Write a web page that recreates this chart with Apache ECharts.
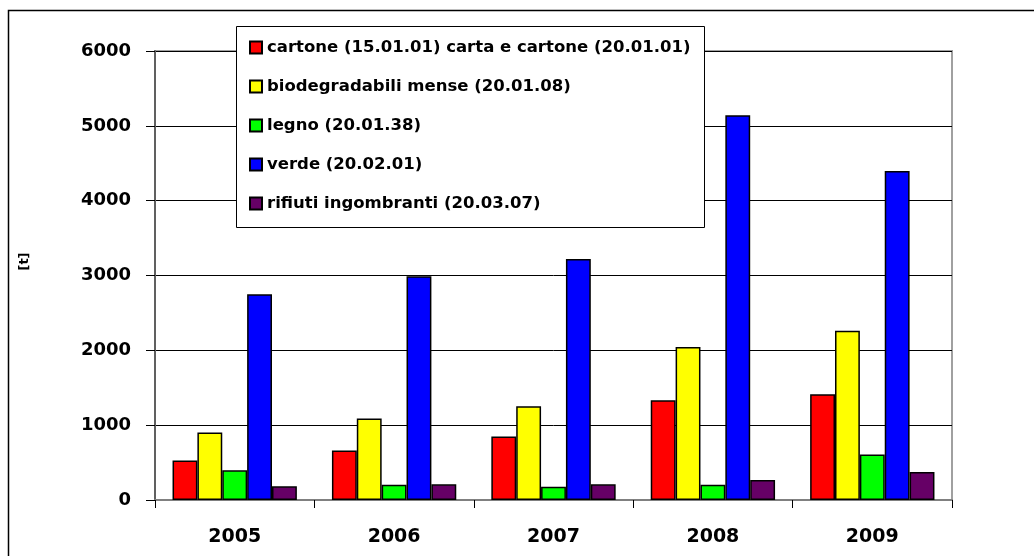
<!DOCTYPE html>
<html>
<head>
<meta charset="utf-8">
<script src="https://cdn.jsdelivr.net/npm/echarts@6/dist/echarts.min.js"></script>
<style>
  html, body { margin: 0; padding: 0; background: #fff; }
  #chart { width: 1034px; height: 556px; }
</style>
</head>
<body>
<div id="chart"></div>
<script>
// data
const years = ["2005", "2006", "2007", "2008", "2009"];
const seriesNames = [
  "cartone (15.01.01) carta e cartone (20.01.01)",
  "biodegradabili mense (20.01.08)",
  "legno (20.01.38)",
  "verde (20.02.01)",
  "rifiuti ingombranti (20.03.07)"
];
const cartone = [529, 663, 849, 1333, 1413];
const biodegradabili = [903, 1089, 1253, 2044, 2262];
const legno = [396, 204, 178, 204, 609];
const verde = [2751, 2991, 3222, 5142, 4396];
const ingombranti = [183, 209, 209, 267, 373];
const yTicks = [0, 1000, 2000, 3000, 4000, 5000, 6000];

const values = [cartone, biodegradabili, legno, verde, ingombranti];
const colors = ["#ff0000", "#ffff00", "#00ff00", "#0000ff", "#660066"];
const font = "DejaVu Sans";

let chart = echarts.init(document.getElementById("chart"));
chart.setOption({
  animation: false,
  backgroundColor: "#fff",
  graphic: [
    {
      type: "rect",
      z: 0,
      shape: { x: 8.5, y: 10.5, width: 1100, height: 700 },
      style: { fill: "none", stroke: "#000", lineWidth: 1.5 },
    },
    {
      type: "rect",
      z: 3,
      shape: { x: 236.5, y: 26.5, width: 468, height: 201 },
      style: { fill: "#fff", stroke: "#000", lineWidth: 1 },
    },
  ],
  grid: {
    left: 155,
    right: 82,
    top: 51,
    bottom: 56,
    show: true,
    borderColor: "#a0a0a0",
    borderWidth: 2,
  },
  legend: {
    orient: "vertical",
    left: 244,
    top: 34,
    z: 4,
    icon: "rect",
    itemWidth: 12,
    itemHeight: 12,
    itemGap: 22,
    selectedMode: false,
    data: seriesNames,
    textStyle: {
      fontFamily: font,
      fontWeight: "bold",
      fontSize: 16.5,
      color: "#000",
    },
  },
  xAxis: {
    type: "category",
    data: years,
    axisLine: { lineStyle: { color: "#808080", width: 2 } },
    axisTick: { show: true, length: 8, lineStyle: { color: "#000", width: 1 } },
    axisLabel: {
      margin: 28,
      fontFamily: font,
      fontWeight: "bold",
      fontSize: 19,
      color: "#000",
    },
  },
  yAxis: {
    type: "value",
    min: yTicks[0],
    max: yTicks[yTicks.length - 1],
    interval: 1000,
    name: "[t]",
    nameLocation: "middle",
    nameGap: 124,
    nameRotate: 90,
    nameTextStyle: {
      fontFamily: font,
      fontWeight: "bold",
      fontSize: 13,
      color: "#000",
      padding: [0, 0, 0, 28],
    },
    axisLine: { show: true, lineStyle: { color: "#606060", width: 2 } },
    axisTick: { show: true, length: 9, lineStyle: { color: "#000", width: 1 } },
    axisLabel: {
      margin: 24,
      fontFamily: font,
      fontWeight: "bold",
      fontSize: 18,
      color: "#000",
      formatter: (v) => String(v),
    },
    splitLine: { lineStyle: { color: "#000", width: 1 } },
  },
  series: values.map((data, i) => {
    return {
      name: seriesNames[i],
      type: "bar",
      data: data,
      barGap: 0,
      barCategoryGap: "22%",
      itemStyle: {
        color: colors[i],
        borderColor: "#000",
        borderWidth: 1.5,
      },
    };
  }),
});
</script>
</body>
</html>
